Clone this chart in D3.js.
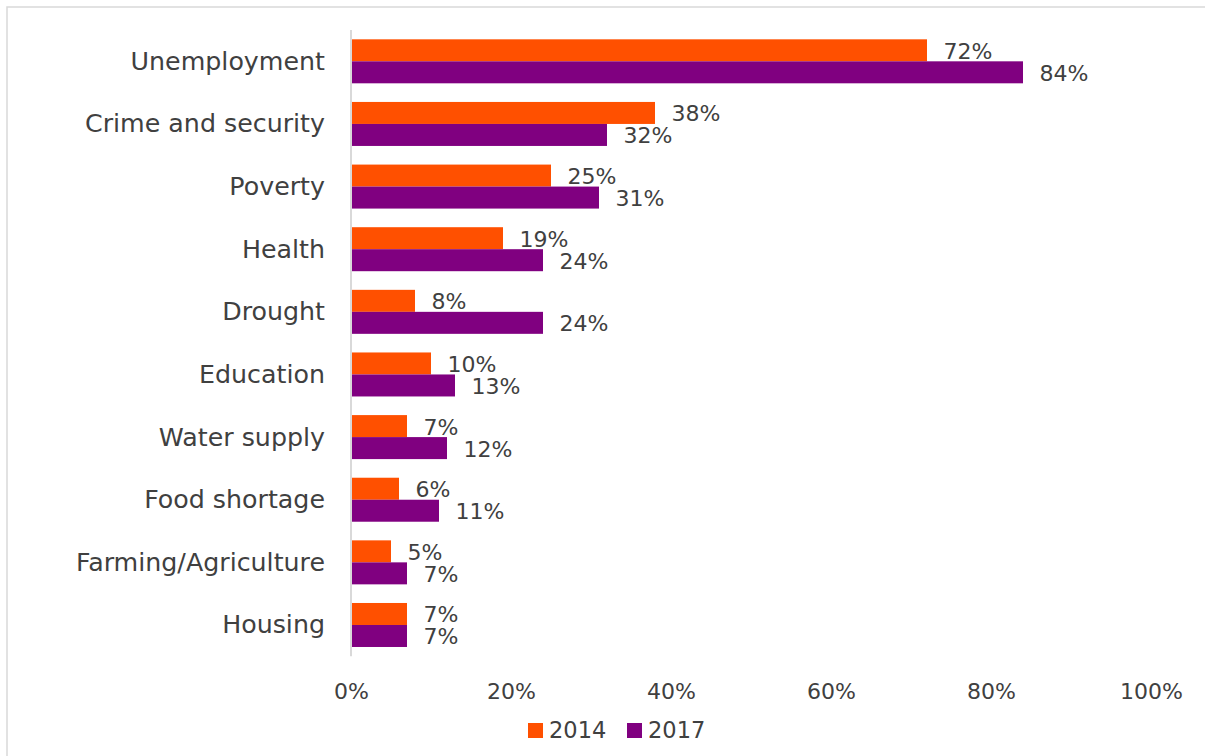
<!DOCTYPE html>
<html>
<head>
<meta charset="utf-8">
<script src="https://cdn.jsdelivr.net/npm/d3@7/dist/d3.min.js"></script>
<style>
  html, body { margin: 0; padding: 0; background: #fff; }
  svg { display: block; }
  text { font-family: "DejaVu Sans", sans-serif; fill: #404040; }
</style>
</head>
<body>
<svg id="chart" width="1205" height="756"></svg>
<script>
// Issues named, share of respondents (%)
const categories = ["Unemployment", "Crime and security", "Poverty", "Health", "Drought",
  "Education", "Water supply", "Food shortage", "Farming/Agriculture", "Housing"];
const seriesNames = ["2014", "2017"];
const values2014 = [72, 38, 25, 19, 8, 10, 7, 6, 5, 7];
const values2017 = [84, 32, 31, 24, 24, 13, 12, 11, 7, 7];
const xTicks = [0, 20, 40, 60, 80, 100];
const colors = ["#FF5000", "#800080"];

const svg = d3.select("#chart");

// chart frame
svg.append("rect")
  .attr("x", 7).attr("y", 7)
  .attr("width", 1260).attr("height", 800)
  .attr("fill", "#fff")
  .attr("stroke", "#d9d9d9").attr("stroke-width", 1.5);

const x = d3.scaleLinear().domain([0, 100]).range([351, 1151]);
const y = d3.scaleBand().domain(categories).range([30, 656.3])
  .paddingInner(0.2975).paddingOuter(0.2975 / 2);
const ySub = d3.scaleBand().domain(seriesNames).range([0, y.bandwidth()]);

const rows = categories.map((c, i) => ({
  category: c,
  values: [values2014[i], values2017[i]]
}));

// bars
const groups = svg.append("g").selectAll("g")
  .data(rows).join("g")
  .attr("transform", d => `translate(0,${y(d.category)})`);

groups.selectAll("rect")
  .data(d => d.values.map((v, k) => ({ series: seriesNames[k], value: v, k })))
  .join("rect")
  .attr("x", x(0))
  .attr("y", d => ySub(d.series))
  .attr("width", d => x(d.value) - x(0))
  .attr("height", ySub.bandwidth())
  .attr("fill", d => colors[d.k]);

// value labels
groups.selectAll("text.val")
  .data(d => d.values.map((v, k) => ({ series: seriesNames[k], value: v })))
  .join("text")
  .attr("class", "val")
  .attr("x", d => x(d.value) + 16.5)
  .attr("y", d => ySub(d.series) + ySub.bandwidth() / 2 + 1)
  .attr("dominant-baseline", "central")
  .attr("font-size", 22)
  .text(d => d.value + "%");

// vertical category axis line
svg.append("line")
  .attr("x1", x(0)).attr("x2", x(0))
  .attr("y1", 30).attr("y2", 656.3)
  .attr("stroke", "#d9d9d9").attr("stroke-width", 2);

// category labels
svg.append("g").selectAll("text")
  .data(categories).join("text")
  .attr("x", 325)
  .attr("y", d => y(d) + y.bandwidth() / 2)
  .attr("text-anchor", "end")
  .attr("dominant-baseline", "central")
  .attr("font-size", 25.3)
  .text(d => d);

// value axis tick labels
const xAxis = d3.axisBottom(x).tickValues(xTicks)
  .tickFormat(d => d + "%").tickSize(0).tickPadding(0);
const axisG = svg.append("g").attr("transform", "translate(0,680)").call(xAxis);
axisG.select(".domain").remove();
axisG.selectAll("text")
  .attr("font-family", "DejaVu Sans, sans-serif")
  .attr("font-size", 22)
  .attr("fill", "#404040")
  .attr("dy", null)
  .attr("y", 19);

// legend
const legendItems = [
  { name: seriesNames[0], color: colors[0], x: 528 },
  { name: seriesNames[1], color: colors[1], x: 627 }
];
const legend = svg.append("g").selectAll("g")
  .data(legendItems).join("g")
  .attr("transform", d => `translate(${d.x},723)`);
legend.append("rect")
  .attr("width", 15).attr("height", 15)
  .attr("fill", d => d.color);
legend.append("text")
  .attr("x", 21).attr("y", 15)
  .attr("font-size", 22.5)
  .text(d => d.name);
</script>
</body>
</html>
